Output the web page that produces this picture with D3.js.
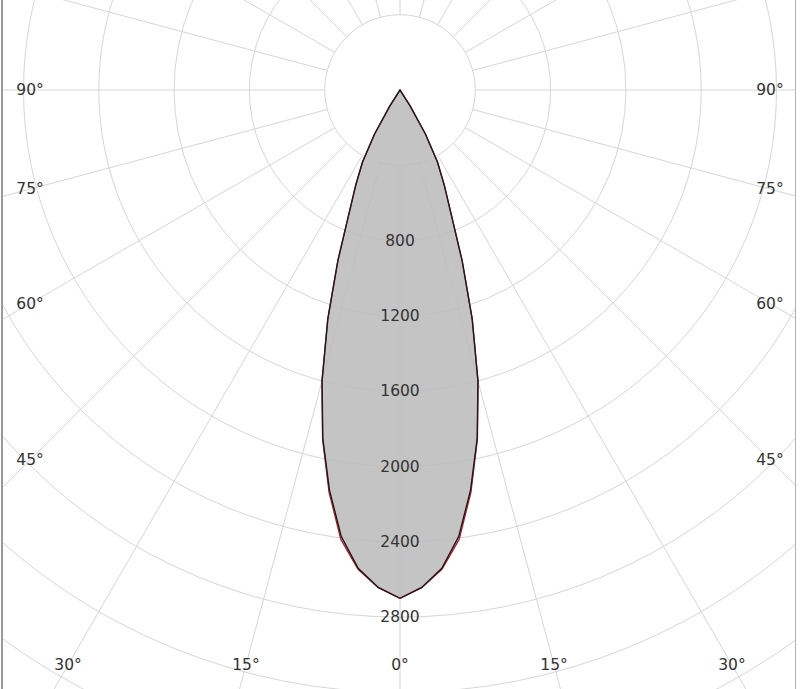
<!DOCTYPE html>
<html>
<head>
<meta charset="utf-8">
<script src="https://cdn.jsdelivr.net/npm/d3@7"></script>
<style>
  html, body { margin: 0; padding: 0; background: #fff; }
  svg { display: block; }
</style>
</head>
<body>
<svg id="chart" width="800" height="689"></svg>
<script>
// ---- data ----
const anglesDeg   = [0, 2.5, 5, 7.5, 10, 12.5, 15, 17.5, 20, 22.5, 25, 27.5, 30, 32.5, 35];
const intensityC0 = [2700, 2645, 2550, 2392, 2158, 1895, 1600, 1275, 965, 705, 555, 430, 270, 100, 0];
const intensityC90= [2700, 2646, 2556, 2408, 2170, 1900, 1602, 1276, 965, 705, 555, 430, 270, 100, 0];
const ringValues  = [400, 800, 1200, 1600, 2000, 2400, 2800, 3200, 3600, 4000, 4400];
const ringLabels  = ["800", "1200", "1600", "2000", "2400", "2800"];
const spokeAngles = d3.range(0, 360, 15);
const bottomAngleLabels = ["30°", "15°", "0°", "15°", "30°"];
const bottomAngleValues = [-30, -15, 0, 15, 30];
const sideAngleLabels = ["45°", "60°", "75°", "90°"];
const sideAngleValues = [45, 60, 75, 90];

// ---- layout ----
const W = 800, H = 689;
const cx = 400, cy = 90;
const svg = d3.select("#chart");
const r = d3.scaleLinear().domain([0, 400]).range([0, 75.3]);
const toRad = d => d * Math.PI / 180;

svg.append("defs").append("clipPath").attr("id", "frame")
  .append("rect").attr("x", 3).attr("y", 0).attr("width", 792).attr("height", H);

const clipG = svg.append("g").attr("clip-path", "url(#frame)")
  .append("g").attr("transform", `translate(${cx},${cy})`);

// grid
const grid = clipG.append("g").attr("fill", "none").attr("stroke", "#d6d6d6").attr("stroke-width", 1);
grid.selectAll("circle").data(ringValues).join("circle")
  .attr("r", d => r(d));
grid.selectAll("line").data(spokeAngles).join("line")
  .attr("x1", d => r(400) * Math.sin(toRad(d)))
  .attr("y1", d => r(400) * Math.cos(toRad(d)))
  .attr("x2", d => r(4800) * Math.sin(toRad(d)))
  .attr("y2", d => r(4800) * Math.cos(toRad(d)));

// curve (angle measured from downward vertical)
function pts(vals) {
  const right = anglesDeg.map((a, i) => [Math.PI - toRad(a), r(vals[i])]);
  const left = anglesDeg.map((a, i) => [Math.PI + toRad(a), r(vals[i])]).reverse();
  return left.concat(right.slice(1));
}
const radial = d3.lineRadial().angle(d => d[0]).radius(d => d[1]).curve(d3.curveLinearClosed);

clipG.append("path").attr("d", radial(pts(intensityC0)))
  .attr("fill", "#bcbcbc").attr("fill-opacity", 0.88).attr("stroke", "none");

// outlines
clipG.append("path").attr("d", radial(pts(intensityC90)))
  .attr("fill", "none").attr("stroke", "#c0182a").attr("stroke-width", 1.3);
clipG.append("path").attr("d", radial(pts(intensityC0)))
  .attr("fill", "none").attr("stroke", "#1a1a1a").attr("stroke-width", 1.4);

// labels on top
const g = svg.append("g").attr("transform", `translate(${cx},${cy})`);
const font = "DejaVu Sans";
const fs = 15.5, tc = "#333";
g.selectAll("text.rl").data(ringLabels).join("text").attr("class", "rl")
  .attr("x", 0).attr("y", d => r(+d))
  .attr("text-anchor", "middle").attr("dominant-baseline", "central")
  .attr("font-family", font).attr("font-size", fs).attr("fill", tc)
  .text(d => d);

// angle labels on bottom
const yB = 665 - cy;
g.selectAll("text.ab").data(bottomAngleValues).join("text").attr("class", "ab")
  .attr("x", d => yB * Math.tan(toRad(d)))
  .attr("y", yB)
  .attr("text-anchor", "middle").attr("dominant-baseline", "central")
  .attr("font-family", font).attr("font-size", fs).attr("fill", tc)
  .text((d, i) => bottomAngleLabels[i]);

// side angle labels
const xS = 370;
[-1, 1].forEach(side => {
  g.selectAll(null).data(sideAngleValues).join("text")
    .attr("x", side * xS)
    .attr("y", d => xS / Math.tan(toRad(d)))
    .attr("text-anchor", "middle").attr("dominant-baseline", "central")
    .attr("font-family", font).attr("font-size", fs).attr("fill", tc)
    .text((d, i) => sideAngleLabels[i]);
});

// frame lines
svg.append("line").attr("x1", 2).attr("x2", 2).attr("y1", 0).attr("y2", H)
  .attr("stroke", "#9a9a9a").attr("stroke-width", 2);
svg.append("line").attr("x1", 795.5).attr("x2", 795.5).attr("y1", 0).attr("y2", H)
  .attr("stroke", "#b0b0b0").attr("stroke-width", 1);
</script>
</body>
</html>
